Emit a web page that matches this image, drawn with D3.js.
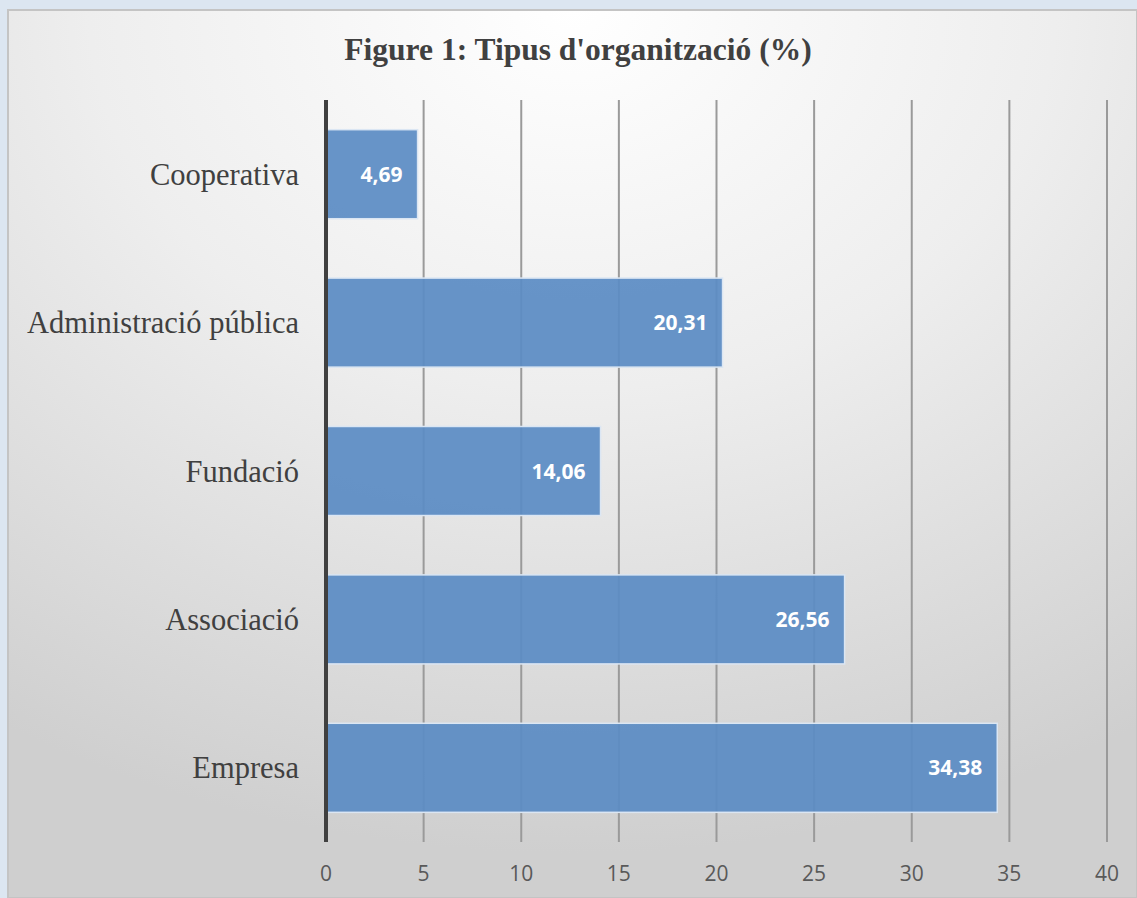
<!DOCTYPE html>
<html>
<head>
<meta charset="utf-8">
<script src="https://cdn.jsdelivr.net/npm/d3@7"></script>
<style>
  html, body { margin: 0; padding: 0; background: #dce6f1; }
  svg { display: block; }
</style>
</head>
<body>
<svg id="chart" width="1137" height="898"></svg>
<script>
// data
const categories = ["Cooperativa", "Administració pública", "Fundació", "Associació", "Empresa"];
const values = [4.69, 20.31, 14.06, 26.56, 34.38];
const xTicks = [0, 5, 10, 15, 20, 25, 30, 35, 40];

const svg = d3.select("#chart");
const W = 1137, H = 898;

// panel background gradient
const defs = svg.append("defs");
const grad = defs.append("radialGradient")
  .attr("id", "bg")
  .attr("cx", "50%").attr("cy", "0%").attr("r", "95%")
  .attr("fx", "50%").attr("fy", "0%");
grad.append("stop").attr("offset", "0%").attr("stop-color", "#ffffff");
grad.append("stop").attr("offset", "45%").attr("stop-color", "#eeeeee");
grad.append("stop").attr("offset", "100%").attr("stop-color", "#cfcfcf");

svg.append("rect")
  .attr("x", 8).attr("y", 10)
  .attr("width", W - 8).attr("height", H - 10)
  .attr("fill", "url(#bg)")
  .attr("stroke", "#c4c4c4")
  .attr("stroke-width", 2);

// title
svg.append("text")
  .attr("x", 578).attr("y", 60)
  .attr("text-anchor", "middle")
  .style("font-family", "Liberation Serif, serif")
  .style("font-weight", "bold")
  .style("font-size", "31.5px")
  .attr("fill", "#404040")
  .text("Figure 1: Tipus d'organització (%)");

const x = d3.scaleLinear().domain([0, 40]).range([326, 1107]);
const y = d3.scaleBand().domain(categories).range([100, 842]).paddingInner(0.4).paddingOuter(0.2);

// gridlines
svg.append("g")
  .selectAll("line")
  .data(xTicks.filter(d => d > 0))
  .enter()
  .append("line")
  .attr("x1", d => x(d)).attr("x2", d => x(d))
  .attr("y1", 100).attr("y2", 842)
  .attr("stroke", "#9a9a9a")
  .attr("stroke-width", 2);

// bars
svg.append("g")
  .selectAll("rect")
  .data(values)
  .enter()
  .append("rect")
  .attr("x", x(0))
  .attr("y", (d, i) => y(categories[i]))
  .attr("width", d => x(d) - x(0))
  .attr("height", y.bandwidth())
  .attr("fill", "#5b8cc4")
  .attr("fill-opacity", 0.93)
  .attr("stroke", "#dbe6f3")
  .attr("stroke-width", 1.5);

// value labels
svg.append("g")
  .selectAll("text")
  .data(values)
  .enter()
  .append("text")
  .attr("x", d => x(d) - 15)
  .attr("y", (d, i) => y(categories[i]) + y.bandwidth() / 2)
  .attr("dy", "0.36em")
  .attr("text-anchor", "end")
  .style("font-family", "Open Sans, sans-serif")
  .style("font-weight", "bold")
  .style("font-size", "21px")
  .attr("fill", "#ffffff")
  .text(d => d3.format(".2f")(d).replace(".", ","));

// category labels
svg.append("g")
  .selectAll("text")
  .data(categories)
  .enter()
  .append("text")
  .attr("x", 299)
  .attr("y", d => y(d) + y.bandwidth() / 2)
  .attr("dy", "0.35em")
  .attr("text-anchor", "end")
  .style("font-family", "Liberation Serif, serif")
  .style("font-size", "30.5px")
  .attr("fill", "#404040")
  .text(d => d);

// y axis line
svg.append("line")
  .attr("x1", 326).attr("x2", 326)
  .attr("y1", 100).attr("y2", 842)
  .attr("stroke", "#404040")
  .attr("stroke-width", 4);

// x tick labels
svg.append("g")
  .selectAll("text")
  .data(xTicks)
  .enter()
  .append("text")
  .attr("x", d => x(d))
  .attr("y", 881)
  .attr("text-anchor", "middle")
  .style("font-family", "Open Sans, sans-serif")
  .style("font-size", "21px")
  .attr("fill", "#595959")
  .text(d => d);
</script>
</body>
</html>
